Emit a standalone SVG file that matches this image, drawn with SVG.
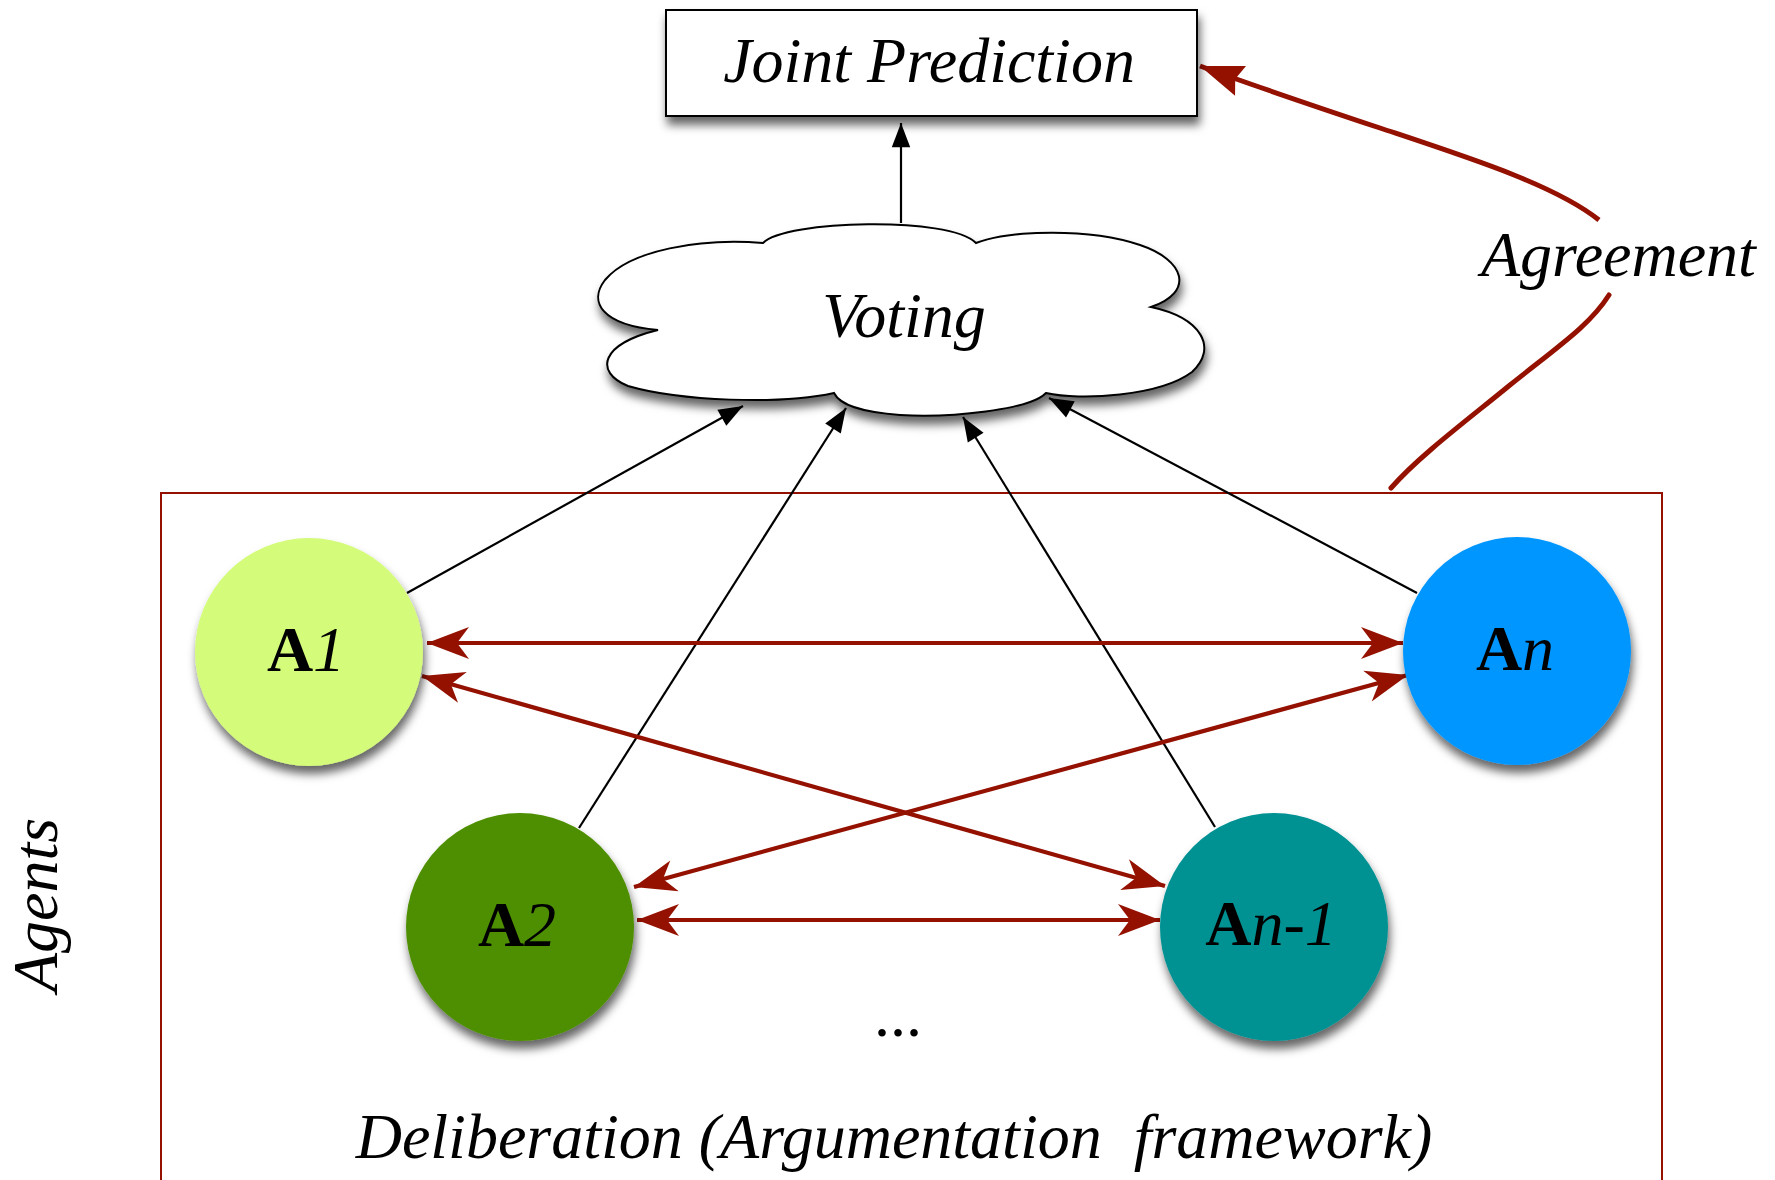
<svg xmlns="http://www.w3.org/2000/svg" width="1775" height="1180" viewBox="0 0 1775 1180">
  <style>
    .lbl { font-family: "Liberation Serif", "Times New Roman", serif; font-style: italic; font-size: 64px; fill: #000; }
    .agent { font-family: "Liberation Serif", "Times New Roman", serif; font-size: 64px; fill: #000; text-anchor: middle; }
    .agent .b { font-weight: bold; font-style: normal; }
    .agent .i { font-style: italic; }
    .vote { fill: none; stroke: #000; stroke-width: 2.2; marker-end: url(#blackHead); }
    .talk { fill: none; stroke: #941100; stroke-width: 4.2; marker-start: url(#redHead); marker-end: url(#redHead); }
    .agree { fill: none; stroke: #941100; stroke-width: 5; }
    .shadow { filter: url(#drop); }
  </style>
  <defs>
    <filter id="drop" x="-30%" y="-30%" width="160%" height="170%">
      <feDropShadow dx="2" dy="8" stdDeviation="5" flood-color="#000" flood-opacity="0.6"/>
    </filter>
    <marker id="redHead" markerUnits="userSpaceOnUse" markerWidth="60" markerHeight="40" viewBox="-45 -20 50 40" refX="0" refY="0" orient="auto-start-reverse" overflow="visible">
      <path d="M0,0 L-42,-16 L-30,0 L-42,16 Z" fill="#941100"/>
    </marker>
    <marker id="agreeHead" markerUnits="userSpaceOnUse" markerWidth="50" markerHeight="40" viewBox="-40 -16 44 32" refX="0" refY="0" orient="auto" overflow="visible">
      <path d="M0,0 L-38,-14 L-33,0 L-38,14 Z" fill="#941100"/>
    </marker>
    <marker id="blackHead" markerUnits="userSpaceOnUse" markerWidth="30" markerHeight="24" viewBox="-24 -10 26 20" refX="0" refY="0" orient="auto" overflow="visible">
      <path d="M0,0 L-21,-8 L-21,8 Z" fill="#000"/>
    </marker>
  </defs>

  <rect width="1775" height="1180" fill="#fff"/>

  <!-- deliberation frame (open at the bottom) -->
  <g id="deliberation">
    <path d="M161,1190 V493 H1662 V1190" fill="none" stroke="#941100" stroke-width="2"/>
    <text class="lbl" x="894" y="1158" text-anchor="middle" xml:space="preserve">Deliberation (Argumentation  framework)</text>
    <text class="lbl" x="898" y="1036" text-anchor="middle" style="font-style:normal">...</text>
  </g>

  <g id="agents-label">
    <text class="lbl" transform="translate(57,905) rotate(-90)" text-anchor="middle">Agents</text>
  </g>

  <!-- connectors -->
  <g id="connectors">
    <!-- votes into the cloud -->
    <line class="vote" x1="407" y1="593" x2="743" y2="406"/>
    <line class="vote" x1="579" y1="828" x2="846" y2="408"/>
    <line class="vote" x1="1215" y1="827" x2="963" y2="417"/>
    <line class="vote" x1="1417" y1="593" x2="1049" y2="398"/>
    <!-- voting result to joint prediction -->
    <line class="vote" x1="901" y1="223" x2="901" y2="123"/>
    <!-- argumentation between agents -->
    <line class="talk" x1="427" y1="643" x2="1403" y2="643"/>
    <line class="talk" x1="422" y1="676" x2="1165" y2="886"/>
    <line class="talk" x1="634" y1="887" x2="1408" y2="675"/>
    <line class="talk" x1="637" y1="920" x2="1160" y2="920"/>
    <!-- agreement path -->
    <path class="agree" d="M1391,488 C1420,455 1470,418 1510,385 C1560,345 1590,325 1609,295" stroke-linecap="round"/>
    <path class="agree" d="M1599,220 C1555,185 1470,158 1380,128 C1320,108 1260,88 1200,66" marker-end="url(#agreeHead)"/>
  </g>

  <g id="agreement-label">
    <text class="lbl" x="1481" y="276">Agreement</text>
  </g>

  <g id="joint-prediction">
    <rect class="shadow" x="666" y="10" width="531" height="106" fill="#fff" stroke="#000" stroke-width="2"/>
    <text class="lbl" x="929" y="82" text-anchor="middle">Joint Prediction</text>
  </g>

  <g id="voting">
    <path class="shadow" d="M763,243 C785,220 950,216 976,243 C1010,230 1090,228 1140,245 C1185,260 1195,292 1151,307 C1202,318 1218,348 1192,372 C1160,396 1080,401 1046,393 C1030,410 950,418 900,415 C860,412 840,405 834,393 C780,405 680,401 628,386 C594,372 600,344 658,330 C602,325 588,302 605,280 C630,250 700,238 763,243 Z" fill="#fff" stroke="#000" stroke-width="2"/>
    <text class="lbl" x="904" y="337" text-anchor="middle">Voting</text>
  </g>

  <g id="agent-a1">
    <circle class="shadow" cx="309" cy="652" r="114" fill="#d4fb79"/>
    <text class="agent" x="306" y="671"><tspan class="b">A</tspan><tspan class="i">1</tspan></text>
  </g>
  <g id="agent-a2">
    <circle class="shadow" cx="520" cy="927" r="114" fill="#4e8f00"/>
    <text class="agent" x="517" y="946"><tspan class="b">A</tspan><tspan class="i">2</tspan></text>
  </g>
  <g id="agent-an-1">
    <circle class="shadow" cx="1274" cy="927" r="114" fill="#009193"/>
    <text class="agent" x="1271" y="945"><tspan class="b">A</tspan><tspan class="i">n-1</tspan></text>
  </g>
  <g id="agent-an">
    <circle class="shadow" cx="1517" cy="651" r="114" fill="#0096ff"/>
    <text class="agent" x="1515" y="670"><tspan class="b">A</tspan><tspan class="i">n</tspan></text>
  </g>
</svg>
